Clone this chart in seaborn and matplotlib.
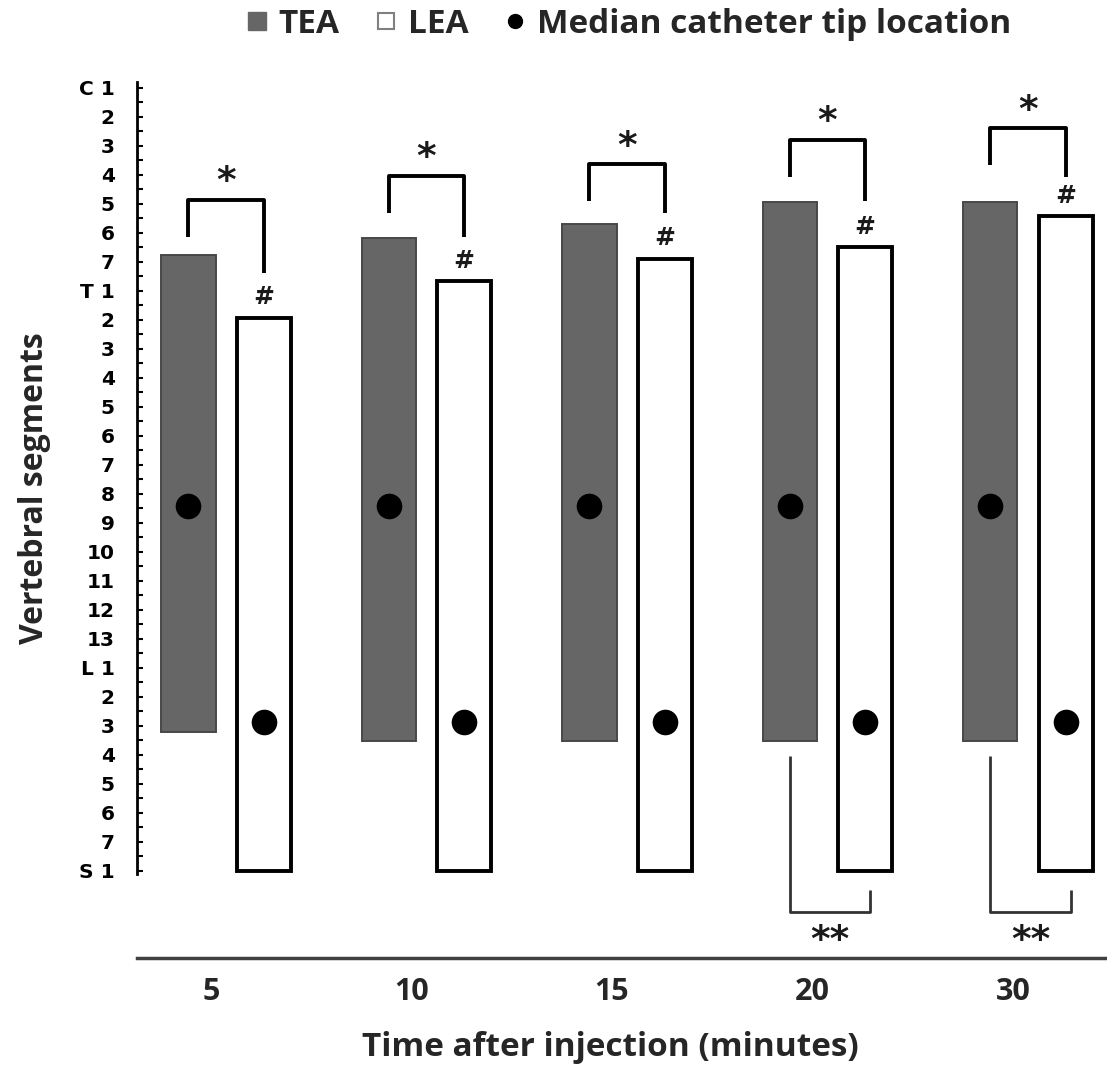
import numpy as np
import pandas as pd
import matplotlib
matplotlib.use("Agg")
import matplotlib.pyplot as plt
import seaborn as sns
from matplotlib.lines import Line2D
from matplotlib.transforms import ScaledTranslation

sns.set_theme(style="white")
plt.rcParams["font.family"] = ["Open Sans", "DejaVu Sans"]

# ---- data (vertebral level index, C1 = 0 ... S1 = 27) ----
seg_labels = (["C 1"] + [str(i) for i in range(2, 8)]
              + ["T 1"] + [str(i) for i in range(2, 14)]
              + ["L 1"] + [str(i) for i in range(2, 8)]
              + ["S 1"])

times = ["5", "10", "15", "20", "30"]
tea_top = [5.75, 5.17, 4.68, 3.93, 3.93]
tea_bottom = [22.2, 22.52, 22.52, 22.52, 22.52]
lea_top = [7.92, 6.65, 5.89, 5.48, 4.41]
lea_bottom = [27.0, 27.0, 27.0, 27.0, 27.0]
tea_median = [14.43, 14.43, 14.43, 14.43, 14.43]
lea_median = [21.87, 21.87, 21.87, 21.87, 21.87]

# significance brackets (TEA vs LEA, upper extent)
bracket_top = [3.86, 3.03, 2.62, 1.79, 1.38]
bracket_right_end = [6.37, 5.13, 4.30, 3.89, 3.06]
# lower extent brackets
lower_sig = ["20", "30"]

df = pd.DataFrame({
    "time": times * 2,
    "group": ["TEA"] * 5 + ["LEA"] * 5,
    "top": tea_top + lea_top,
    "bottom": tea_bottom + lea_bottom,
})
df["span"] = df["bottom"] - df["top"]

fig = plt.figure(figsize=(11.07, 10.70), dpi=100)
ax = fig.add_axes([0.1238, 0.1047, 0.8744, 0.8402])

sns.barplot(data=df, x="time", y="span", hue="group", order=times,
            hue_order=["TEA", "LEA"], palette={"TEA": "#666666", "LEA": "white"},
            saturation=1, width=0.75, gap=0.28, errorbar=None, legend=False, ax=ax)

# float the bars: move each one to start at its upper level
tops = {"TEA": tea_top, "LEA": lea_top}
centers = {}
for grp, cont in zip(["TEA", "LEA"], ax.containers):
    centers[grp] = []
    for bar, t in zip(cont, tops[grp]):
        bar.set_y(t)
        if grp == "TEA":
            bar.set_edgecolor("#484848")
            bar.set_linewidth(1.4)
        else:
            bar.set_edgecolor("black")
            bar.set_linewidth(2.8)
        centers[grp].append(bar.get_x() + bar.get_width() / 2)

sns.scatterplot(x=centers["TEA"] + centers["LEA"], y=tea_median + lea_median,
                color="black", s=340, linewidth=0, zorder=4, legend=False, ax=ax)

# brackets
for i in range(len(times)):
    x1, x2 = centers["TEA"][i], centers["LEA"][i]
    top = bracket_top[i]
    ax.plot([x1, x1, x2, x2], [top + 1.27, top, top, bracket_right_end[i]],
            color="black", lw=2.8, solid_capstyle="butt", zorder=5)
    ax.text((x1 + x2) / 2, top - 0.6, "*", ha="center", va="center",
            fontsize=27, fontweight="bold", family="DejaVu Sans", color="#1a1a1a")
    ax.text(x2, lea_top[i] - 0.7, "#", ha="center", va="center",
            fontsize=18, fontweight="bold", family="DejaVu Sans", color="#1a1a1a")

for t in lower_sig:
    i = times.index(t)
    x1, x2 = centers["TEA"][i], centers["LEA"][i] + 0.025
    ax.plot([x1, x1, x2, x2], [tea_bottom[i] + 0.5, 28.41, 28.41, 27.65],
            color="#333333", lw=2.0, solid_capstyle="butt", zorder=5)
    ax.text((x1 + x2) / 2, 29.4, "**", ha="center", va="center",
            fontsize=27, fontweight="bold", family="DejaVu Sans", color="#1a1a1a")

# axes styling
ax.set_xlim(-0.444, 4.384)
ax.set_ylim(30, -1)
ax.set_yticks(range(len(seg_labels)))
ax.set_yticklabels(seg_labels, family="DejaVu Sans", fontweight="bold", fontsize=14.5)
ax.set_yticks(np.arange(0.5, 27, 1), minor=True)
ax.tick_params(axis="y", which="both", direction="in", left=True, length=4,
               width=1.5, pad=16, colors="black")
ax.tick_params(axis="x", length=0, pad=14, labelsize=22)
for lab in ax.get_xticklabels():
    lab.set_fontweight("bold")
    lab.set_transform(lab.get_transform() + ScaledTranslation(-0.15, 0, fig.dpi_scale_trans))
ax.set_xlabel("")
ax.set_ylabel("")

for s in ["top", "right"]:
    ax.spines[s].set_visible(False)
ax.spines["left"].set_bounds(-0.2, 27.1)
ax.spines["left"].set_color("black")
ax.spines["left"].set_linewidth(2.0)
ax.spines["bottom"].set_color("#404040")
ax.spines["bottom"].set_linewidth(2.5)

fig.text(610 / 1107, 1 - 1047 / 1070, "Time after injection (minutes)",
         ha="center", va="center", fontsize=24, fontweight="bold")
fig.text(35 / 1107, 1 - 488 / 1070, "Vertebral segments", rotation=90,
         ha="center", va="center", fontsize=23, fontweight="bold")

handles = [
    Line2D([], [], ls="none", marker="s", ms=12.5, mfc="#666666", mec="#666666"),
    Line2D([], [], ls="none", marker="s", ms=12, mfc="white", mec="#808080", mew=1.5),
    Line2D([], [], ls="none", marker="o", ms=10, mfc="black", mec="black"),
]
fig.legend(handles, ["TEA", "LEA", "Median catheter tip location"],
           loc="center", bbox_to_anchor=(0.568, 0.977), ncol=3, frameon=False,
           prop={"weight": "bold", "size": 24}, handlelength=0.6,
           handletextpad=0.35, columnspacing=1.1)

fig.savefig("out.png", dpi=100)
